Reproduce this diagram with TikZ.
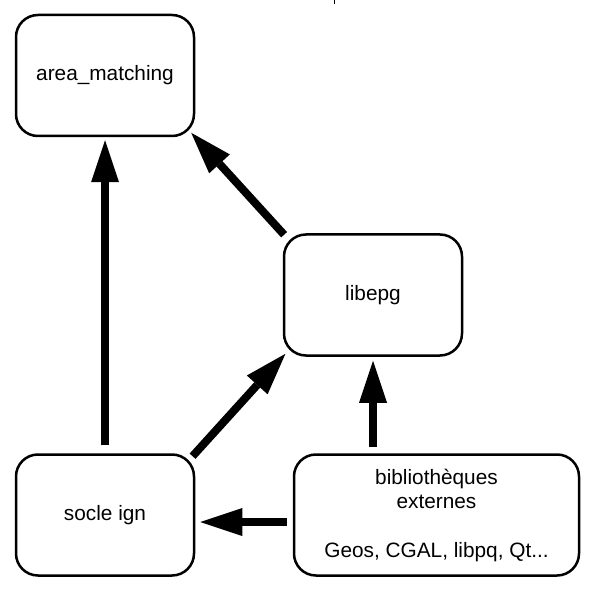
\documentclass[tikz,border=0pt]{standalone}
\usepackage{fontspec}
\setmainfont{Liberation Sans}
\usetikzlibrary{arrows.meta}
\begin{document}
\begin{tikzpicture}[x=1pt,y=-1pt,
    bloc/.style={draw, line width=2.5pt, rounded corners=22pt,
      minimum width=178pt, minimum height=121pt, inner sep=0pt,
      align=center, font=\fontsize{20.8}{24.5}\selectfont},
    fleche/.style={line width=8pt,
      -{Triangle[length=42pt,width=28pt,line width=0pt]}}]
  \useasboundingbox (0,0) rectangle (596,593);
  \draw[line width=1pt] (334,0) -- (334,4);
  \node (area) at (105,75.5) [bloc] {area\_matching};
  \node (libepg) at (373,295) [bloc] {libepg};
  \node (socle) at (105,515) [bloc] {socle ign};
  \node (biblio) at (436.5,515) [bloc, minimum width=285pt]
    {biblioth\`eques\\externes\\[24pt]Geos, CGAL, libpq, Qt...};
  \draw[fleche, shorten <=8pt, shorten >=3pt] (socle) -- (area);
  \draw[fleche, shorten <=-2pt, shorten >=-6pt] (libepg.north west) -- (area.south east);
  \draw[fleche, shorten <=-4pt, shorten >=-4pt] (socle.north east) -- (libepg.south west);
  \draw[fleche, shorten <=6pt, shorten >=4pt] (biblio.north -| libepg) -- (libepg.south);
  \draw[fleche, shorten <=6pt, shorten >=5pt] ([yshift=-7pt]biblio.west) -- ([yshift=-7pt]socle.east);
\end{tikzpicture}
\end{document}
